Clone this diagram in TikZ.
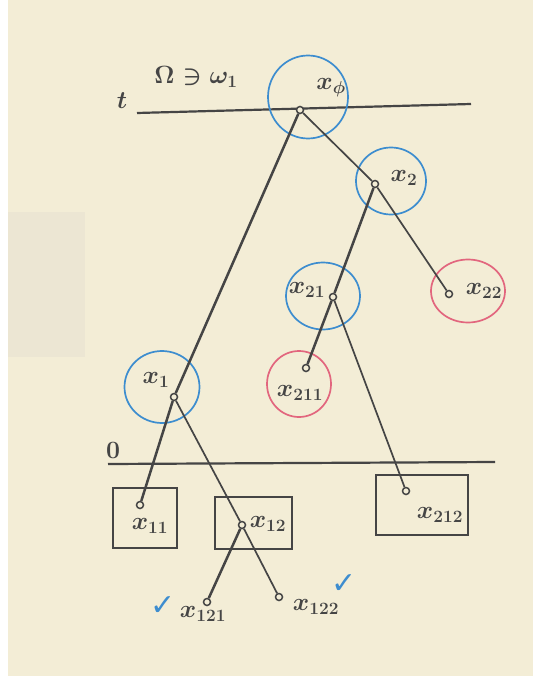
\documentclass[tikz,border=0pt]{standalone}
\usepackage{fontspec}
\usepackage{tikz}
\usetikzlibrary{shapes.geometric}
\newfontfamily\checkfont{DejaVu Sans}
\definecolor{paper}{HTML}{F3EDD6}
\definecolor{patch}{HTML}{ECE6D3}
\definecolor{ink}{HTML}{454545}
\definecolor{bluepen}{HTML}{3D8DCF}
\definecolor{redpen}{HTML}{E2667E}

\begin{document}
\begin{tikzpicture}[x=1pt, y=-1pt,
  ball/.style={ellipse, draw, line width=1.7pt, inner sep=0pt},
  leafbox/.style={rectangle, draw=ink, line width=1.9pt, inner sep=0pt},
  dotnode/.style={circle, draw=ink, fill=paper, line width=1.5pt, inner sep=0pt, minimum size=7pt},
  lab/.style={text=ink, font=\fontsize{24}{28}\selectfont\boldmath, inner sep=1pt},
  branch/.style={draw=ink, line width=2.5pt},
  twig/.style={draw=ink, line width=1.7pt},
  tick/.style={text=bluepen, font=\checkfont\fontsize{30}{34}\selectfont, inner sep=0pt}]
% paper
\fill[white] (0,0) rectangle (533,679);
\fill[paper] (8,0) rectangle (533,676);
\fill[patch] (8,212) rectangle (85,357);

% time levels
\coordinate (tL) at (137,113);
\coordinate (tR) at (471,104);
\coordinate (zL) at (108,464);
\coordinate (zR) at (495,462);
\draw[ink, line width=2.2pt] (tL) -- (tR);
\draw[ink, line width=2.2pt] (zL) -- (zR);
\node[lab] (tlab) at (122,101) {$t$};
\node[lab] (zlab) at (113,450) {$0$};
\node[lab] (omega) at (196,77) {$\Omega\ni\omega_1$};

% circles and boxes
\node[ball, draw=bluepen, minimum width=80pt, minimum height=83pt] (cphi) at (308,97) {};
\node[ball, draw=bluepen, minimum width=70pt, minimum height=67pt] (c2) at (391,181) {};
\node[ball, draw=bluepen, minimum width=74pt, minimum height=67pt] (c21) at (323,296) {};
\node[ball, draw=redpen, minimum width=74pt, minimum height=63pt] (c22) at (468,291) {};
\node[ball, draw=redpen, minimum width=64pt, minimum height=66pt] (c211) at (299,384) {};
\node[ball, draw=bluepen, minimum width=75pt, minimum height=72pt] (c1) at (162,387) {};
\node[leafbox, minimum width=64pt, minimum height=60pt] (b11) at (145,518) {};
\node[leafbox, minimum width=77pt, minimum height=52pt] (b12) at (253.5,523) {};
\node[leafbox, minimum width=92pt, minimum height=60pt] (b212) at (422,505) {};

% tree nodes
\node[dotnode] (phi) at (300,110) {};
\node[dotnode] (n2) at (375,184) {};
\node[dotnode] (n21) at (333,297) {};
\node[dotnode] (n22) at (449,294) {};
\node[dotnode] (n211) at (306,368) {};
\node[dotnode] (n212) at (406,491) {};
\node[dotnode] (n1) at (174,397) {};
\node[dotnode] (n11) at (140,505) {};
\node[dotnode] (n12) at (242,525) {};
\node[dotnode] (n121) at (207,602) {};
\node[dotnode] (n122) at (279,597) {};

% branches
\draw[branch] (phi) -- (n1);
\draw[twig] (phi) -- (n2);
\draw[branch] (n2) -- (n21);
\draw[twig] (n2) -- (n22);
\draw[branch] (n21) -- (n211);
\draw[twig] (n21) -- (n212);
\draw[branch] (n1) -- (n11);
\draw[twig] (n1) -- (n12);
\draw[branch] (n12) -- (n121);
\draw[twig] (n12) -- (n122);

% labels
\node[lab] (lphi) at (331,88) {$x_\phi$};
\node[lab] (l2) at (404,178) {$x_2$};
\node[lab] (l21) at (307,290) {$x_{21}$};
\node[lab] (l22) at (484,291) {$x_{22}$};
\node[lab] (l211) at (300,393) {$x_{211}$};
\node[lab] (l1) at (156,380) {$x_1$};
\node[lab] (l11) at (150,526) {$x_{11}$};
\node[lab] (l12) at (268,524) {$x_{12}$};
\node[lab] (l212) at (440,515) {$x_{212}$};
\node[lab] (l121) at (203,614) {$x_{121}$};
\node[lab] (l122) at (316,607) {$x_{122}$};
\node[tick] (ok121) at (163,606) {✓};
\node[tick] (ok122) at (344,584) {✓};
\end{tikzpicture}
\end{document}
